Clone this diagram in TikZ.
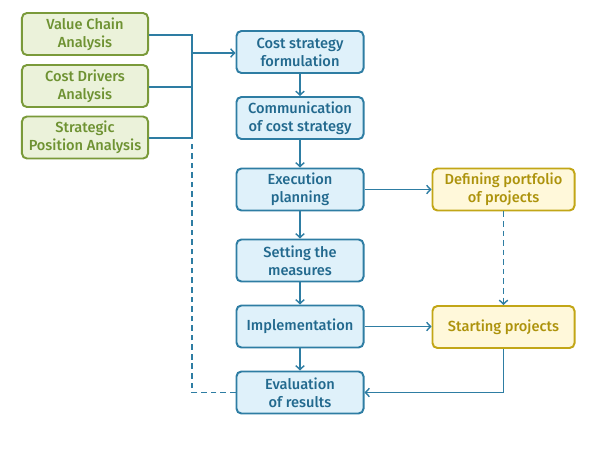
\documentclass[tikz,border=0pt]{standalone}
\usepackage{fontspec}
\setmainfont{Fira Sans}[UprightFont={* Medium}]
\usetikzlibrary{arrows.meta}
\definecolor{grline}{HTML}{7A9A3A}
\definecolor{grfill}{HTML}{EBF2DA}
\definecolor{grtext}{HTML}{6E9232}
\definecolor{blline}{HTML}{2E7DA3}
\definecolor{blfill}{HTML}{DFF1FA}
\definecolor{bltext}{HTML}{22698E}
\definecolor{ylline}{HTML}{C2A617}
\definecolor{ylfill}{HTML}{FFF8DA}
\definecolor{yltext}{HTML}{AD930C}
\tikzset{
	box/.style={draw, line width=1.4pt, rounded corners=3.5pt, align=center,
		minimum height=1.05cm, inner sep=1pt, font=\fontsize{10.4}{12.8}\selectfont},
	greenbox/.style={box, draw=grline, fill=grfill, text=grtext, minimum width=3.15cm},
	bluebox/.style={box, draw=blline, fill=blfill, text=bltext, minimum width=3.175cm},
	yellowbox/.style={box, draw=ylline, fill=ylfill, text=yltext, minimum width=3.55cm},
	link/.style={draw=blline, line width=1pt, >={Straight Barb[length=2.8pt,width=6pt]}},
	dashlink/.style={link, dash pattern=on 4pt off 2.8pt},
}
\begin{document}
\begin{tikzpicture}[x=0.025cm, y=-0.025cm]
	\useasboundingbox (0,0) rectangle (600,450);
	
	\node[greenbox] (vca) at (85,34) {Value Chain\\Analysis};
	\node[greenbox] (cda) at (85,86) {Cost Drivers\\Analysis};
	\node[greenbox] (spa) at (85,137.5) {Strategic\\Position Analysis};
	
	\node[bluebox] (csf) at (300,52) {Cost strategy\\formulation};
	\node[bluebox] (com) at (300,118) {Communication\\of cost strategy};
	\node[bluebox] (exe) at (300,189.5) {Execution\\planning};
	\node[bluebox] (set) at (300,260.5) {Setting the\\measures};
	\node[bluebox] (imp) at (300,326.5) {Implementation};
	\node[bluebox] (eva) at (300,392.5) {Evaluation\\of results};
	
	\node[yellowbox] (dpp) at (503.5,189.5) {Defining portfolio\\of projects};
	\node[yellowbox] (stp) at (503.5,327) {Starting projects};
	
	\coordinate (join) at (192,53);
	\path[link] (vca.east |- 0,35) -| (join);
	\path[link] (cda.east |- 0,87) -| (join);
	\path[link] (spa.east |- 0,138) -| (join);
	\path[link, ->] (join) -- (csf.west |- join);
	\path[dashlink] (eva.west) -| (192,140);
	
	\path[link, ->] (csf) -- (com);
	\path[link, ->] (com) -- (exe);
	\path[link, ->] (exe) -- (set);
	\path[link, ->] (set) -- (imp);
	\path[link, ->] (imp) -- (eva);
	
	\path[link, ->] (exe) -- (dpp);
	\path[link, ->] (imp.east) -- (stp.west |- imp.east);
	\path[dashlink, ->] (dpp) -- (stp);
	\path[link, ->] (stp.south) |- (eva.east);
	
\end{tikzpicture}
\end{document}
